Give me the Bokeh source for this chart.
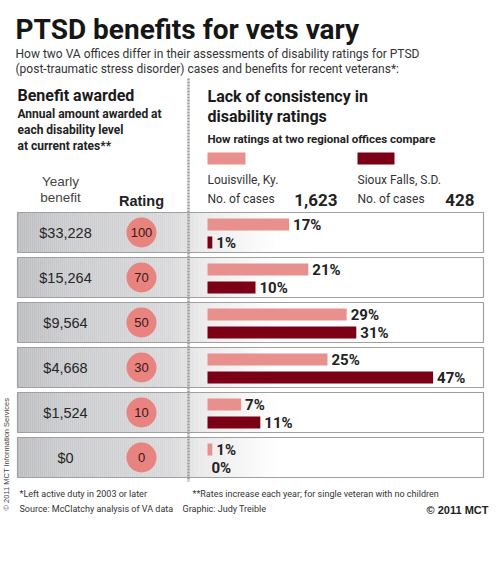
from bokeh.plotting import figure
from bokeh.models import Range1d
from bokeh.embed import file_html
from bokeh.resources import INLINE
from bokeh.core.properties import value
import numpy as np

# ---------------- data ----------------
ratings = ["100", "70", "50", "30", "10", "0"]
yearly_benefit = ["$33,228", "$15,264", "$9,564", "$4,668", "$1,524", "$0"]
louisville_pct = [17, 21, 29, 25, 7, 1]
sioux_falls_pct = [1, 10, 31, 47, 11, 0]
louisville_cases = "1,623"
sioux_falls_cases = "428"

PINK = "#e8908e"
DARK = "#7b0015"
CIRCLE = "#e8837f"

W, H = 500, 540
p = figure(width=W, height=H, x_range=Range1d(0, W), y_range=Range1d(H, 0),
           output_backend="svg", toolbar_location=None, min_border=0,
           x_axis_location=None, y_axis_location=None)
p.grid.visible = False
p.outline_line_color = None
p.background_fill_color = "white"
p.border_fill_color = "white"

# scales: percent axis and row axis
X0, PXP = 207.0, 4.8
p.extra_x_ranges = {"pct": Range1d((0 - X0) / PXP, (W - X0) / PXP)}
ROW0, PITCH = 232.0, 45.0
p.extra_y_ranges = {"row": Range1d((H - ROW0) / PITCH, (0 - ROW0) / PITCH)}

rows = list(range(len(ratings)))

# ---------------- row boxes with gradient ----------------
keys_x = [17, 60, 170, 200, 275]
keys_c = [(188, 189, 192), (201, 202, 205), (217, 217, 219), (234, 234, 235), (255, 255, 255)]
strip_l, strip_r, strip_t, strip_b, strip_c = [], [], [], [], []
xs = np.arange(17, 276, 2)
for i in rows:
    for x in xs:
        rgb = [int(np.interp(x, keys_x, [c[k] for c in keys_c])) for k in range(3)]
        strip_l.append(x)
        strip_r.append(x + 2.2)
        strip_t.append(i - 20 / PITCH)
        strip_b.append(i + 20 / PITCH)
        strip_c.append("#%02x%02x%02x" % tuple(rgb))
p.quad(left=strip_l, right=strip_r, top=strip_t, bottom=strip_b, fill_color=strip_c,
       line_color=None, y_range_name="row")
p.quad(left=[17] * len(rows), right=[483] * len(rows),
       top=[i - 20 / PITCH for i in rows], bottom=[i + 20 / PITCH for i in rows],
       fill_color=None, line_color="#a0a0a0", line_width=1.2, y_range_name="row")

# dotted divider
p.segment(x0=[188], y0=[78], x1=[188], y1=[481], line_color="#9c9c9c", line_width=2.5,
          line_dash="2 1")

# ---------------- bars ----------------
p.hbar(y=[i - 8 / PITCH for i in rows], left=0, right=louisville_pct, height=12 / PITCH,
       fill_color=PINK, line_color=None, x_range_name="pct", y_range_name="row")
p.hbar(y=[i + 10 / PITCH for i in rows], left=0, right=sioux_falls_pct, height=12 / PITCH,
       fill_color=DARK, line_color=None, x_range_name="pct", y_range_name="row")
p.text(x=louisville_pct, y=[i - 8 / PITCH for i in rows], text=[f"{v}%" for v in louisville_pct],
       x_offset=4, text_baseline="middle", text_font=value("Roboto"), text_font_style="bold",
       text_font_size="15px", text_color="#222222", x_range_name="pct", y_range_name="row")
p.text(x=sioux_falls_pct, y=[i + 10 / PITCH for i in rows], text=[f"{v}%" for v in sioux_falls_pct],
       x_offset=4, text_baseline="middle", text_font=value("Roboto"), text_font_style="bold",
       text_font_size="15px", text_color="#222222", x_range_name="pct", y_range_name="row")

# ---------------- rating circles & benefits ----------------
p.scatter(x=[141] * len(rows), y=rows, size=30, fill_color=CIRCLE, line_color=None,
          y_range_name="row")
p.text(x=[141] * len(rows), y=rows, text=ratings, text_align="center", text_baseline="middle",
       text_font=value("Liberation Sans"), text_font_size="13px", text_color="#3a1818",
       y_range_name="row")
p.text(x=[65] * len(rows), y=rows, text=yearly_benefit, text_align="center", text_baseline="middle",
       text_font=value("Liberation Sans"), text_font_size="14.5px", text_color="#262626",
       y_range_name="row")

# ---------------- texts ----------------
RB = value("Roboto")


def txt(x, y, s, size, bold=False, font=RB, align="left", color="#222222"):
    p.text(x=[x], y=[y], text=[s], text_font=font, text_font_size=size,
           text_font_style="bold" if bold else "normal", text_align=align,
           text_baseline="alphabetic", text_color=color)


txt(15, 29, "PTSD benefits for vets vary", "28px", bold=True, color="#161616")
txt(15, 53, "How two VA offices differ in their assessments of disability ratings for PTSD", "12px", color="#333333")
txt(15, 68, "(post-traumatic stress disorder) cases and benefits for recent veterans*:", "12px", color="#333333")

txt(17, 95, "Benefit awarded", "16px", bold=True, color="#1a1a1a")
txt(17, 113, "Annual amount awarded at", "12px", bold=True)
txt(17, 129, "each disability level", "12px", bold=True)
txt(17, 145, "at current rates**", "12px", bold=True)
txt(60, 181, "Yearly", "13.5px", font=value("Liberation Sans"), align="center", color="#444444")
txt(60, 197, "benefit", "13.5px", font=value("Liberation Sans"), align="center", color="#444444")
txt(141, 200, "Rating", "14.5px", bold=True, font=value("Liberation Sans"), align="center")

txt(207, 96, "Lack of consistency in", "16px", bold=True, color="#1a1a1a")
txt(207, 116, "disability ratings", "16px", bold=True, color="#1a1a1a")
txt(207, 138, "How ratings at two regional offices compare", "11.5px", bold=True)

p.quad(left=[207, 357], right=[245, 394], top=[152, 152], bottom=[164, 164],
       fill_color=[PINK, DARK], line_color=None)
txt(207, 179, "Louisville, Ky.", "12px", color="#333333")
txt(357, 179, "Sioux Falls, S.D.", "12px", color="#333333")
txt(207, 198, "No. of cases", "12px", color="#333333")
txt(357, 198, "No. of cases", "12px", color="#333333")
txt(337, 199, louisville_cases, "17px", bold=True, align="right")
txt(474, 199, sioux_falls_cases, "17px", bold=True, align="right")

txt(19, 493, "*Left active duty in 2003 or later", "9px", color="#333333")
txt(192, 493, "**Rates increase each year; for single veteran with no children", "9px", color="#333333")
txt(19, 508, "Source: McClatchy analysis of VA data", "9px", color="#333333")
txt(182, 508, "Graphic: Judy Treible", "9px", color="#333333")
txt(488, 509, "\u00a9 2011 MCT", "11px", bold=True, font=value("Liberation Sans"), align="right")

p.text(x=[5.5], y=[510], text=["\u00a9 2011 MCT Information Services"], angle=np.pi / 2,
       text_font=value("Liberation Sans"), text_font_size="7.5px", text_align="left",
       text_baseline="middle", text_color="#444444")

open("out.html", "w").write(file_html(p, INLINE))
